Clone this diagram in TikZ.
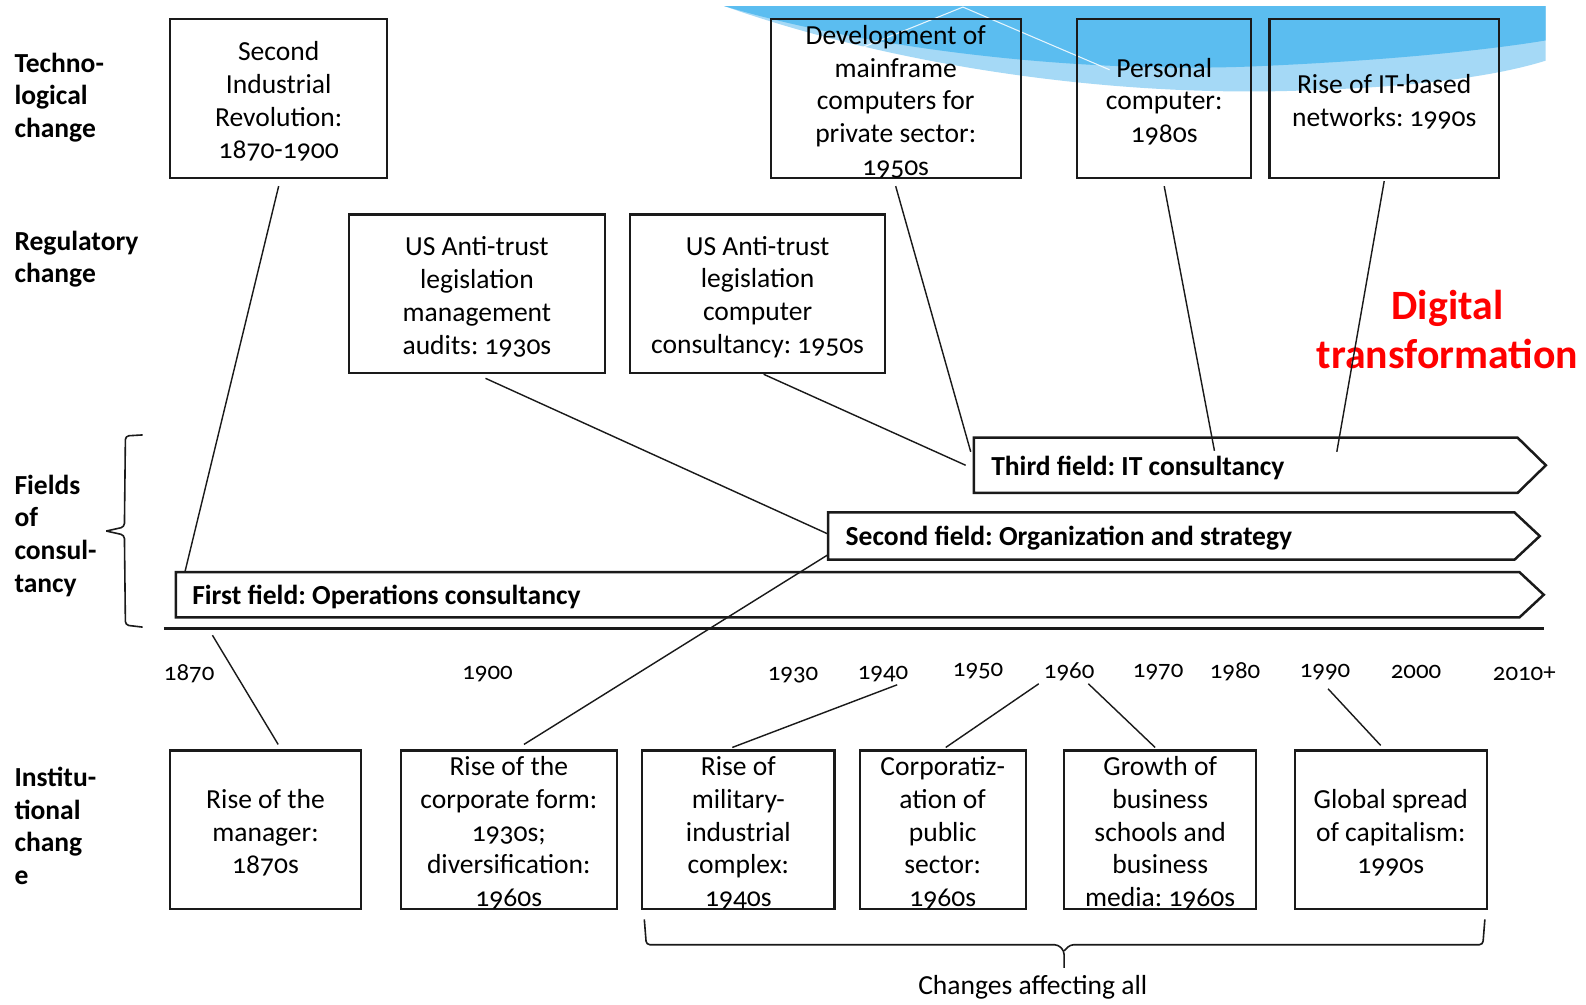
\documentclass[tikz,border=0pt]{standalone}
\usepackage{fontspec}
\setmainfont{Carlito}[Numbers=OldStyle]
\usetikzlibrary{calc}
\frenchspacing

\definecolor{swooshdark}{HTML}{5BBDF0}
\definecolor{swooshlight}{HTML}{A5D9F6}
\definecolor{ink}{HTML}{1A1A1A}
\definecolor{hotred}{HTML}{FF0000}

\tikzset{
  eventbox/.style={draw=ink, line width=1.2pt, inner sep=0pt, rectangle, minimum height=3.14cm},
  eventtext/.style={align=center, font=\fontsize{15.5}{18.4}\selectfont, inner sep=0pt},
  rowlabel/.style={anchor=north west, align=left, font=\bfseries\fontsize{15.5}{18.4}\selectfont, inner sep=0pt},
  fieldbody/.style={inner sep=0pt, rectangle},
  fieldedge/.style={draw=ink, line width=1.4pt, line join=miter},
  fieldtext/.style={anchor=west, font=\bfseries\fontsize{15.5}{18}\selectfont, inner sep=0pt},
  yearlabel/.style={font=\fontsize{14}{16}\selectfont, inner sep=0pt},
  link/.style={draw=ink, line width=0.8pt},
  bracket/.style={draw=ink, line width=0.9pt, rounded corners=2pt},
}

% event box: name, centre, width, text
\newcommand\eventnode[4]{%
  \node[eventbox, minimum width=#3] (#1) at #2 {};
  \node[eventtext] at ([yshift=-0.06cm]#1.center) {#4};}

% pointed band around a field node: name, point length
\newcommand\fieldarrow[2]{%
  \draw[fieldedge] (#1.north west) -- ([xshift=-#2]#1.north east) -- (#1.east)
    -- ([xshift=-#2]#1.south east) -- (#1.south west) -- cycle;}

\begin{document}
\begin{tikzpicture}[x=0.02cm, y=-0.02cm]
\path[use as bounding box, fill=white] (0,0) rectangle (1568,993);

% decorative swoosh in the top right corner
\fill[swooshlight] (716,6) .. controls (880,64) and (1100,98) .. (1300,89)
  .. controls (1420,85) and (1490,72) .. (1528,60) -- (1528,6) -- cycle;
\fill[swooshdark] (716,6) .. controls (850,46) and (1050,72) .. (1230,66)
  .. controls (1380,60) and (1480,48) .. (1528,40) -- (1528,6) -- cycle;
\draw[white, line width=0.6pt, opacity=0.85] (840,52) -- (952,7) -- (1097,69);

% row labels
\node[rowlabel] (rtech) at (14,52) {Techno-\\logical\\change};
\node[rowlabel] (rreg) at (14,228) {Regulatory\\change};
\node[rowlabel] (rfields) at (14,469) {Fields\\of\\consul-\\tancy};
\node[rowlabel] (rinst) at (14,758) {Institu-\\tional\\chang\\e};

% technological change
\eventnode{sir}{(275.5,97.5)}{4.30cm}{Second\\Industrial\\Revolution:\\1870-1900}
\eventnode{mainframe}{(885.5,97.5)}{4.94cm}{Development of\\mainframe\\computers for\\private sector:\\1950s}
\eventnode{pc}{(1151,97.5)}{3.44cm}{Personal\\computer:\\1980s}
\eventnode{itnet}{(1368.5,97.5)}{4.54cm}{Rise of IT-based\\networks: 1990s}

% regulatory change
\eventnode{audit}{(471.5,290.5)}{5.06cm}{US Anti-trust\\legislation\\management\\audits: 1930s}
\eventnode{compcons}{(749,290.5)}{5.04cm}{US Anti-trust\\legislation\\computer\\consultancy: 1950s}

% fields of consultancy
\node[fieldbody, minimum width=11.30cm, minimum height=1.08cm] (third) at (1245.5,460) {};
\node[fieldbody, minimum width=14.06cm, minimum height=0.92cm] (second) at (1170.5,530) {};
\node[fieldbody, minimum width=27.04cm, minimum height=0.88cm] (first) at (850,588) {};
\fieldarrow{third}{0.56cm}
\fieldarrow{second}{0.50cm}
\fieldarrow{first}{0.48cm}
\node[fieldtext] at ([xshift=0.34cm,yshift=-0.05cm]third.west) {Third field: IT consultancy};
\node[fieldtext] at ([xshift=0.34cm,yshift=-0.05cm]second.west) {Second field: Organization and strategy};
\node[fieldtext] at ([xshift=0.32cm,yshift=-0.05cm]first.west) {First field: Operations consultancy};

% bracket grouping the fields
\draw[bracket] (141,430) -- (124,431) -- (123,521) -- (105,525);
\draw[bracket] (105,525) -- (123,529) -- (124,618) -- (141,620);

% timeline
\coordinate (tlstart) at (162,621);
\coordinate (tlend) at (1526,621);
\coordinate (t1870) at (210,628);
\draw[ink, line width=1.8pt] (tlstart) -- (tlend);
\node[yearlabel] (y1870) at (187,666) {1870};
\node[yearlabel] (y1900) at (482,666) {1900};
\node[yearlabel] (y1930) at (784,667) {1930};
\node[yearlabel] (y1940) at (873,666) {1940};
\node[yearlabel] (y1950) at (967,664) {1950};
\node[yearlabel] (y1960) at (1057,664) {1960};
\node[yearlabel] (y1970) at (1145,664) {1970};
\node[yearlabel] (y1980) at (1221,664) {1980};
\node[yearlabel] (y1990) at (1310,664) {1990};
\node[yearlabel] (y2000) at (1400,664) {2000};
\node[yearlabel] (y2010) at (1507,666) {2010+};

% institutional change
\eventnode{manager}{(262.5,820.5)}{3.78cm}{Rise of the\\manager:\\1870s}
\eventnode{corp}{(503,820.5)}{4.28cm}{Rise of the\\corporate form:\\1930s;\\diversification:\\1960s}
\eventnode{military}{(730,820.5)}{3.80cm}{Rise of\\military-\\industrial\\complex:\\1940s}
\eventnode{public}{(932,820.5)}{3.28cm}{Corporatiz-\\ation of\\public\\sector:\\1960s}
\eventnode{growth}{(1147,820.5)}{3.80cm}{Growth of\\business\\schools and\\business\\media: 1960s}
\eventnode{global}{(1375,820.5)}{3.80cm}{Global spread\\of capitalism:\\1990s}

% bracket under the shared institutional changes
\draw[bracket] (637,909) -- (639,934) -- (1046,934) -- (1052,940) -- (1052,957);
\draw[bracket] (1052,940) -- (1058,934) -- (1466,934) -- (1468,909);
\node[eventtext] (allnote) at (1021,976) {Changes affecting all};

% highlight label
\node[align=center, text=hotred, font=\bfseries\fontsize{23.5}{27.5}\selectfont, inner sep=0pt]
  (digital) at (1431,326) {Digital\\transformation};

% links from events to fields and years
\draw[link] ([yshift=-0.14cm]sir.south) -- ([xshift=0.18cm]first.north west);
\draw[link] ([yshift=-0.14cm]mainframe.south) -- ([xshift=-0.06cm,yshift=-0.28cm]third.north west);
\draw[link] ([yshift=-0.14cm]pc.south) -- ([xshift=4.76cm,yshift=-0.26cm]third.north west);
\draw[link] ([yshift=-0.04cm]itnet.south) -- ([xshift=7.18cm,yshift=-0.28cm]third.north west);
\draw[link] ([xshift=0.17cm,yshift=-0.08cm]audit.south) -- ([yshift=0.04cm]second.west);
\draw[link] ([xshift=0.12cm]compcons.south) -- ([xshift=-0.16cm]third.west);
\draw[link] ([xshift=0.30cm,yshift=0.10cm]corp.north) -- ([yshift=0.10cm]second.south west);
\draw[link] ([xshift=0.25cm,yshift=0.10cm]manager.north) -- (t1870);
\draw[link] ([xshift=-0.12cm,yshift=0.04cm]military.north) -- ([xshift=0.28cm,yshift=-0.22cm]y1940.center);
\draw[link] ([xshift=0.06cm,yshift=0.04cm]public.north) -- ([xshift=-0.60cm,yshift=-0.24cm]y1960.center);
\draw[link] ([xshift=-0.10cm,yshift=0.04cm]growth.north) -- ([xshift=0.38cm,yshift=-0.24cm]y1960.center);
\draw[link] ([xshift=-0.20cm,yshift=0.08cm]global.north) -- ([xshift=0.06cm,yshift=-0.34cm]y1990.center);
\end{tikzpicture}
\end{document}
